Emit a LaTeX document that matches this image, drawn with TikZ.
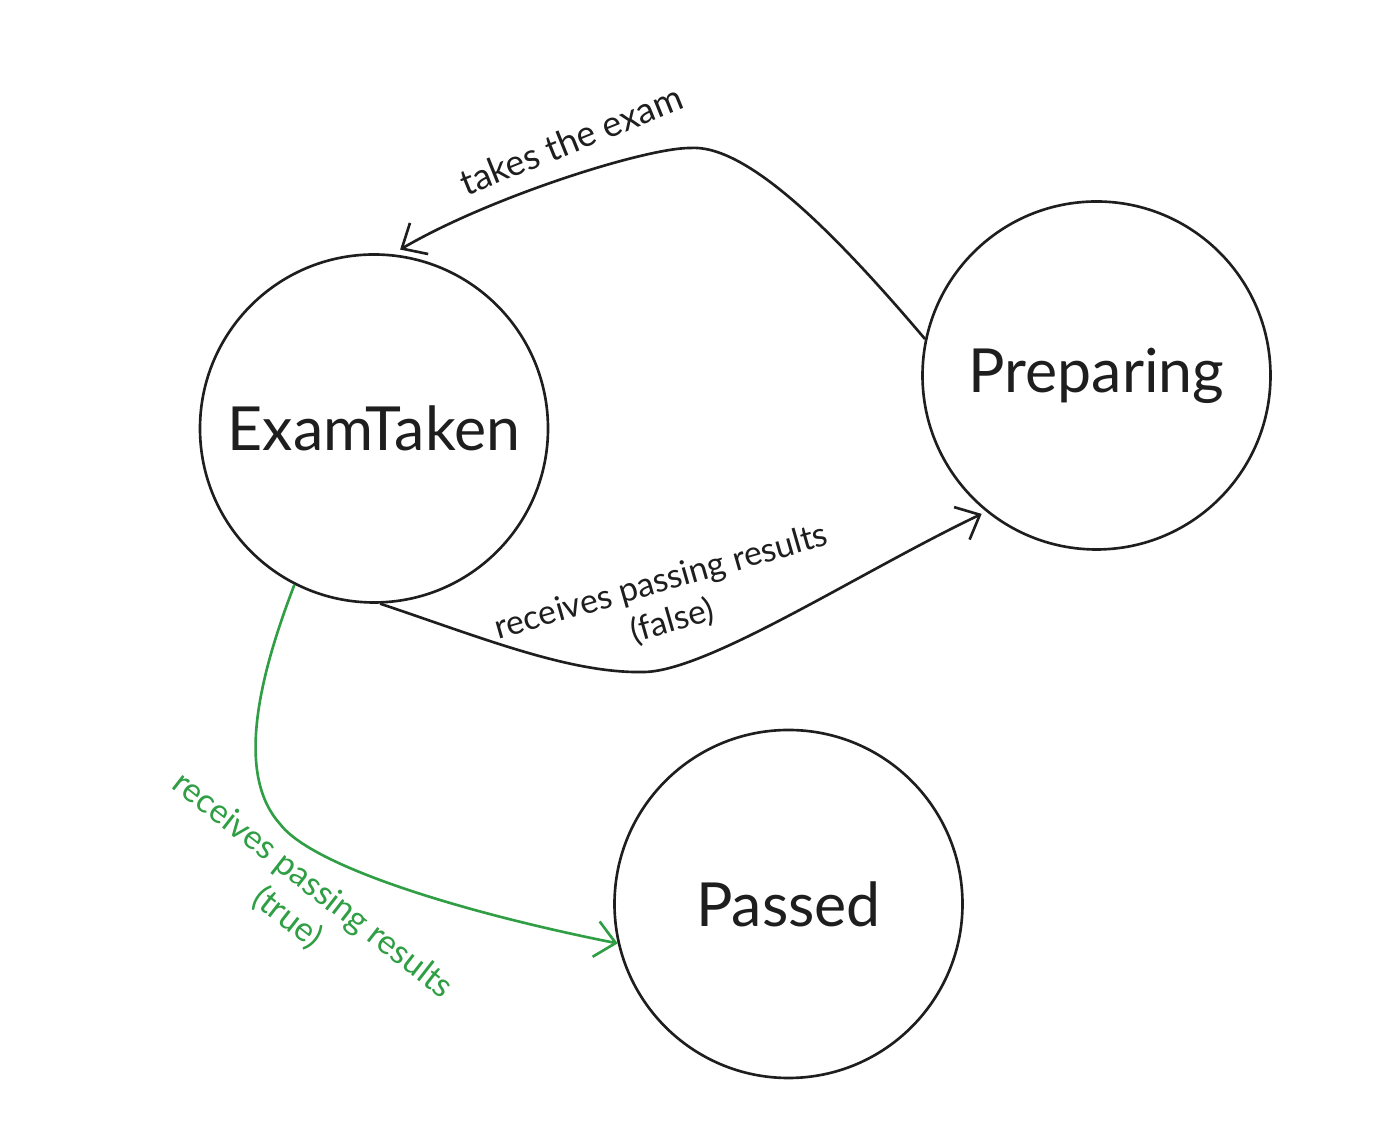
\documentclass[tikz,border=0pt]{standalone}
\usepackage{fontspec}
\setmainfont{Lato}
\usetikzlibrary{arrows.meta}
\definecolor{ink}{HTML}{1E1E1E}
\definecolor{passgreen}{HTML}{2F9E44}

\begin{document}
\begin{tikzpicture}[font=\fontsize{9.6}{11.7}\selectfont, text=ink,
  state/.style={circle, draw=ink, line width=0.75pt, minimum size=3.48cm, inner sep=0pt, font=\fontsize{17.3}{20}\selectfont},
  trans/.style={line width=0.75pt, draw=ink, -{Straight Barb[length=2mm,width=3.6mm]}},
  lbl/.style={align=center, inner sep=0pt}]
\useasboundingbox (0,0) rectangle (14,11.32);

% states
\node[state] (exam) at (3.74,7.035) {ExamTaken};
\node[state] (prep) at (10.965,7.565) {Preparing};
\node[state] (passed) at (7.885,2.28) {Passed};

% transitions
\draw[trans, shorten >=0.09cm] (prep.168) .. controls (8.3,9.05) and (7.45,9.88) .. (6.9,9.84)
  .. controls (6.45,9.84) and (4.9,9.35) .. (exam.84);
\node[lbl, rotate=22, font=\fontsize{10.2}{12}\selectfont] (takes) at (5.71,9.92) {takes the exam};

\draw[trans, shorten >=0.05cm] (exam.272) .. controls (4.8,4.95) and (5.7,4.58) .. (6.45,4.6)
  .. controls (7.1,4.62) and (8.6,5.6) .. (prep.231);
\node[lbl, rotate=16] (fails) at (6.67,5.3) {receives passing results\\(false)};

\draw[trans, draw=passgreen] (exam.243) .. controls (2.55,4.45) and (2.38,3.55) .. (2.8,3.08)
  .. controls (3.12,2.66) and (4.6,2.2) .. (passed.193);
\node[lbl, rotate=-38, text=passgreen] (passes) at (3.0,2.3) {receives passing results\\(true)};
\end{tikzpicture}
\end{document}
